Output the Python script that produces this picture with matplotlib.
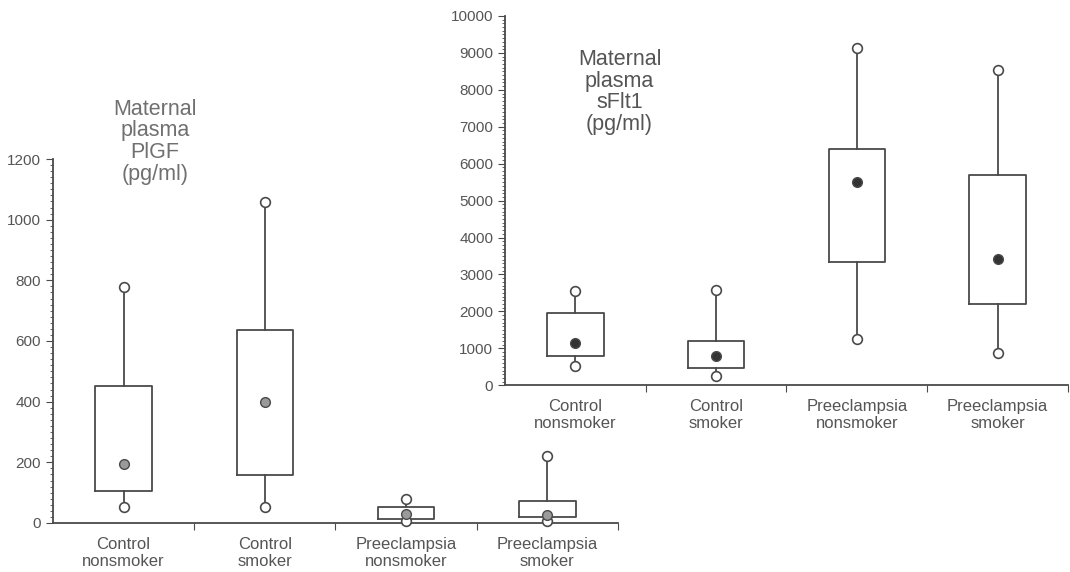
import matplotlib.pyplot as plt
from matplotlib.ticker import MultipleLocator

plt.rcParams['font.family'] = ['Liberation Sans', 'DejaVu Sans']

groups = ["Control\nnonsmoker", "Control\nsmoker", "Preeclampsia\nnonsmoker", "Preeclampsia\nsmoker"]

# PlGF (pg/ml): whisker ends, quartiles and centre value
plgf_lo = [53, 53, 5, 6]
plgf_q1 = [107, 157, 13, 20]
plgf_mid = [195, 400, 28, 25]
plgf_q3 = [450, 636, 54, 73]
plgf_hi = [778, 1058, 79, 222]

# sFlt1 (pg/ml)
sflt_lo = [533, 243, 1250, 877]
sflt_q1 = [795, 478, 3330, 2190]
sflt_mid = [1140, 795, 5510, 3420]
sflt_q3 = [1945, 1210, 6407, 5700]
sflt_hi = [2540, 2570, 9130, 8550]

line_col = "#4a4a4a"
text_col = "#555555"


def draw_boxes(ax, lo, q1, mid, q3, hi, dot_col):
    stats = []
    for i in range(len(groups)):
        stats.append(dict(whislo=lo[i], q1=q1[i], med=mid[i], q3=q3[i], whishi=hi[i]))
    pos = range(len(groups))
    ax.bxp(stats, positions=pos, widths=0.4, showfliers=False, showcaps=False,
           boxprops=dict(color=line_col, linewidth=1.3),
           whiskerprops=dict(color=line_col, linewidth=1.3),
           medianprops=dict(linewidth=0))
    ax.plot(pos, lo, 'o', ms=7, mfc='white', mec=line_col, mew=1.2, ls='none', clip_on=False, zorder=3)
    ax.plot(pos, hi, 'o', ms=7, mfc='white', mec=line_col, mew=1.2, ls='none', clip_on=False, zorder=3)
    ax.plot(pos, mid, 'o', ms=7, mfc=dot_col, mec=line_col, mew=1.0, ls='none', zorder=4)


def style_axis(ax, top, major, minor):
    ax.set_xlim(-0.5, 3.5)
    ax.set_ylim(0, top)
    ax.patch.set_alpha(0)
    for s in ["top", "right"]:
        ax.spines[s].set_visible(False)
    for s in ["left", "bottom"]:
        ax.spines[s].set_color(line_col)
        ax.spines[s].set_linewidth(1.3)
    ax.yaxis.set_major_locator(MultipleLocator(major))
    ax.yaxis.set_minor_locator(MultipleLocator(minor))
    ax.tick_params(axis='y', which='major', length=5, color=line_col, labelsize=11, labelcolor=text_col)
    ax.tick_params(axis='y', which='minor', length=2.5, color=line_col)
    # category labels sit between the boundary ticks
    ax.set_xticks([0.5, 1.5, 2.5, 3.5])
    ax.set_xticklabels([])
    ax.set_xticks(range(4), minor=True)
    ax.set_xticklabels(groups, minor=True, fontsize=12, color=text_col, linespacing=1.15)
    ax.tick_params(axis='x', which='major', length=5, color=line_col)
    ax.tick_params(axis='x', which='minor', length=0, pad=10)


fig = plt.figure(figsize=(10.7, 5.72), dpi=100)

ax1 = fig.add_axes([0.0495, 0.0857, 0.528, 0.6363])
draw_boxes(ax1, plgf_lo, plgf_q1, plgf_mid, plgf_q3, plgf_hi, "#9a9a9a")
style_axis(ax1, 1200, 200, 20)
fig.text(0.145, 0.752, "Maternal\nplasma\nPlGF\n(pg/ml)", ha='center', va='center',
         fontsize=15.5, color="#707070", linespacing=1.05)

ax2 = fig.add_axes([0.472, 0.3264, 0.526, 0.6457])
draw_boxes(ax2, sflt_lo, sflt_q1, sflt_mid, sflt_q3, sflt_hi, "#333333")
style_axis(ax2, 10000, 1000, 100)
fig.text(0.579, 0.839, "Maternal\nplasma\nsFlt1\n(pg/ml)", ha='center', va='center',
         fontsize=15.5, color="#555555", linespacing=1.05)

fig.savefig("out.png", dpi=100)
